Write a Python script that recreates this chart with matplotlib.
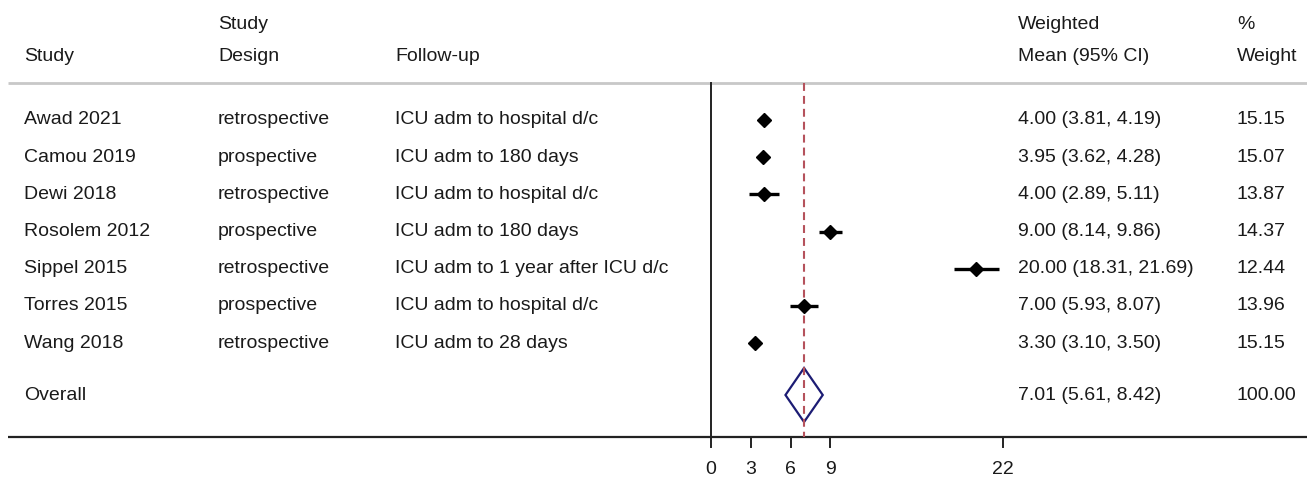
import matplotlib
matplotlib.use("Agg")
import matplotlib.pyplot as plt
from matplotlib.patches import Polygon

plt.rcParams['font.family'] = ['Liberation Sans', 'DejaVu Sans']

studies = ["Awad 2021", "Camou 2019", "Dewi 2018", "Rosolem 2012",
           "Sippel 2015", "Torres 2015", "Wang 2018"]
designs = ["retrospective", "prospective", "retrospective", "prospective",
           "retrospective", "prospective", "retrospective"]
followup = ["ICU adm to hospital d/c", "ICU adm to 180 days", "ICU adm to hospital d/c",
            "ICU adm to 180 days", "ICU adm to 1 year after ICU d/c",
            "ICU adm to hospital d/c", "ICU adm to 28 days"]
means = [4.00, 3.95, 4.00, 9.00, 20.00, 7.00, 3.30]
lower = [3.81, 3.62, 2.89, 8.14, 18.31, 5.93, 3.10]
upper = [4.19, 4.28, 5.11, 9.86, 21.69, 8.07, 3.50]
weights = [15.15, 15.07, 13.87, 14.37, 12.44, 13.96, 15.15]

overall_mean, overall_lo, overall_hi, overall_w = 7.01, 5.61, 8.42, 100.00
xticks = [0, 3, 6, 9, 22]

W, H = 1307, 478
fig = plt.figure(figsize=(W / 100, H / 100), dpi=100)
ax = fig.add_axes([0, 0, 1, 1])
ax.axis('off')

# x scale: 0 at px 711, 22 at px 1003
s = (1003 - 711) / 22
ax.set_xlim(-711 / s, (W - 711) / s)
# y: row i at px 120 + 37.2*i
rh = 37.2
def py(p):
    return (p - 120) / rh
ax.set_ylim(py(H), py(0))

def px(p):
    return (p - 711) / s

fs = 14
tc = '#1a1a1a'
col_study, col_design, col_fu, col_ci, col_w = px(24), px(218), px(395), px(1018), px(1237)

# header
ax.text(col_design, py(25), "Study", fontsize=fs, va='center', color=tc)
ax.text(col_study, py(57), "Study", fontsize=fs, va='center', color=tc)
ax.text(col_design, py(57), "Design", fontsize=fs, va='center', color=tc)
ax.text(col_fu, py(57), "Follow-up", fontsize=fs, va='center', color=tc)
ax.text(col_ci, py(25), "Weighted", fontsize=fs, va='center', color=tc)
ax.text(col_ci, py(57), "Mean (95% CI)", fontsize=fs, va='center', color=tc)
ax.text(col_w, py(25), "%", fontsize=fs, va='center', color=tc)
ax.text(col_w, py(57), "Weight", fontsize=fs, va='center', color=tc)

top, bot = py(83), py(437)
ax.plot([px(8), px(W)], [top, top], color='#c8c8c8', lw=2, solid_capstyle='butt')
ax.plot([px(8), px(W)], [bot, bot], color='#222222', lw=1.6, solid_capstyle='butt')
ax.plot([0, 0], [top, bot], color='#222222', lw=1.4)
ax.plot([overall_mean, overall_mean], [top, bot], color='#b5525c', lw=1.5,
        dashes=(3.8, 2.4))

for i in range(len(studies)):
    ax.text(col_study, i, studies[i], fontsize=fs, va='center', color=tc)
    ax.text(col_design, i, designs[i], fontsize=fs, va='center', color=tc)
    ax.text(col_fu, i, followup[i], fontsize=fs, va='center', color=tc)
    ax.text(col_ci, i, f"{means[i]:.2f} ({lower[i]:.2f}, {upper[i]:.2f})", fontsize=fs,
            va='center', color=tc)
    ax.text(col_w, i, f"{weights[i]:.2f}", fontsize=fs, va='center', color=tc)
    ax.plot([lower[i], upper[i]], [i, i], color='black', lw=2.4, solid_capstyle='butt')
    ax.plot(means[i], i, marker='D', color='black', ms=6.8)

yo = py(395)
ax.text(col_study, yo, "Overall", fontsize=fs, va='center', color=tc)
ax.text(col_ci, yo, f"{overall_mean:.2f} ({overall_lo:.2f}, {overall_hi:.2f})", fontsize=fs,
        va='center', color=tc)
ax.text(col_w, yo, f"{overall_w:.2f}", fontsize=fs, va='center', color=tc)
dh = 27 / rh
ax.add_patch(Polygon([(overall_lo, yo), (overall_mean, yo - dh), (overall_hi, yo),
                      (overall_mean, yo + dh)],
                     closed=True, fill=False, edgecolor='#1c1c74', lw=1.6))

for t in xticks:
    ax.plot([t, t], [bot, py(447)], color='#222222', lw=1.4)
    ax.text(t, py(470), str(t), fontsize=fs, ha='center', va='center', color=tc)

fig.savefig("out.png", dpi=100)
